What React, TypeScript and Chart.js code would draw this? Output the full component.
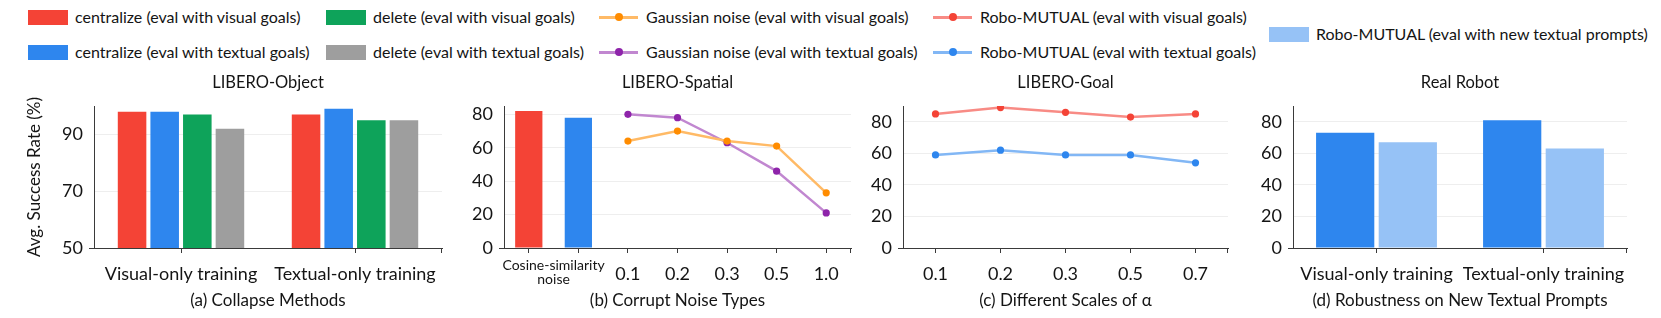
import React, { useEffect, useRef } from 'react';
import { Chart, registerables } from 'chart.js';

Chart.register(...registerables);

// ---------- styling constants ----------
const FONT = 'Lato, "Open Sans", sans-serif';
const TEXT = '#141414';
const AXIS = '#3a3a3a';
const GRID = '#eeeeee';

const RED = '#F44336';
const BLUE = '#2E86EE';
const GREEN = '#0EA35A';
const GRAY = '#9E9E9E';
const LIGHT_BLUE = '#96C2F6';
const ORANGE = '#FF8C00';
const ORANGE_LINE = '#FFBA66';
const PURPLE = '#8E24AA';
const PURPLE_LINE = '#C187D0';
const RED_LINE = '#F88B85';
const BLUE_LINE = '#82B7F5';

// ---------- data ----------
// (a) LIBERO-Object
const objectCategories = ['Visual-only training', 'Textual-only training'];
const objectCentralizeVisual = [98, 97];
const objectCentralizeTextual = [98, 99];
const objectDeleteVisual = [97, 95];
const objectDeleteTextual = [92, 95];
const objectYTicks = [50, 70, 90];

// (b) LIBERO-Spatial
const spatialCosineLabel = ['Cosine-similarity', 'noise'];
const spatialNoiseScales = ['0.1', '0.2', '0.3', '0.5', '1.0'];
const spatialCosineValues = [82, 78]; // centralize visual, centralize textual
const spatialGaussianVisual = [64, 70, 64, 61, 33];
const spatialGaussianTextual = [80, 78, 63, 46, 21];

// (c) LIBERO-Goal
const goalAlphas = ['0.1', '0.2', '0.3', '0.5', '0.7'];
const goalMutualVisual = [85, 89, 86, 83, 85];
const goalMutualTextual = [59, 62, 59, 59, 54];

// (d) Real Robot
const robotCategories = ['Visual-only training', 'Textual-only training'];
const robotMutualTextual = [73, 81];
const robotMutualNewPrompts = [67, 63];

const percentTicks = [0, 20, 40, 60, 80];

// ---------- legend ----------
const legendSeries = [
  { label: 'centralize (eval with visual goals)', kind: 'box', color: RED, point: RED },
  { label: 'centralize (eval with textual goals)', kind: 'box', color: BLUE, point: BLUE },
  { label: 'delete (eval with visual goals)', kind: 'box', color: GREEN, point: GREEN },
  { label: 'delete (eval with textual goals)', kind: 'box', color: GRAY, point: GRAY },
  { label: 'Gaussian noise (eval with visual goals)', kind: 'line', color: ORANGE_LINE, point: ORANGE },
  { label: 'Gaussian noise (eval with textual goals)', kind: 'line', color: PURPLE_LINE, point: PURPLE },
  { label: 'Robo-MUTUAL (eval with visual goals)', kind: 'line', color: RED_LINE, point: RED },
  { label: 'Robo-MUTUAL (eval with textual goals)', kind: 'line', color: BLUE_LINE, point: BLUE },
  { label: 'Robo-MUTUAL (eval with new textual prompts)', kind: 'box', color: LIGHT_BLUE, point: LIGHT_BLUE },
];
const legendSlots = [
  [28, 17], [28, 52], [326, 17], [326, 52], [599, 17], [599, 52], [933, 17], [933, 52], [1269, 34],
];

// ---------- layout ----------
const CANVAS_TOP = 66;
const CANVAS_H = 252;
const AREA_TOP = 106;
const AREA_BOTTOM = 248;
const TITLE_SIZE = 16.5;

type PanelSpec = {
  title: string;
  subtitle: string;
  yMin: number;
  yMax: number;
  yTicks: number[];
  yWidth: number;
  padRight: number;
  yTitle?: string;
};

function baseOptions(p: PanelSpec): any {
  const tickFont = { family: FONT, size: 18 };
  const titleLH = TITLE_SIZE * 1.2;
  const titleTop = 17 - titleLH / 2;
  return {
    animation: false,
    responsive: false,
    maintainAspectRatio: false,
    layout: { padding: { left: 0, right: p.padRight, top: 0, bottom: 0 } },
    plugins: {
      legend: { display: false },
      tooltip: { enabled: false },
      title: {
        display: true,
        text: p.title,
        fullSize: false,
        color: TEXT,
        font: { family: FONT, size: TITLE_SIZE, weight: 'normal' },
        padding: { top: titleTop, bottom: AREA_TOP - CANVAS_TOP - titleTop - titleLH },
      },
    },
    scales: {
      x: {
        offset: true,
        grid: {
          display: true,
          drawOnChartArea: false,
          drawTicks: true,
          tickLength: 5,
          color: AXIS,
          offset: false,
        },
        border: { display: true, color: AXIS, width: 1 },
        ticks: { color: TEXT, font: tickFont, padding: 10, maxRotation: 0, autoSkip: false },
        title: {
          display: true,
          text: p.subtitle,
          color: TEXT,
          font: { family: FONT, size: 17 },
          padding: { top: 0, bottom: 6.8 },
        },
        afterFit: (s: any) => {
          s.height = CANVAS_TOP + CANVAS_H - AREA_BOTTOM;
        },
      },
      y: {
        min: p.yMin,
        max: p.yMax,
        grid: { color: GRID, drawTicks: false, lineWidth: 1 },
        border: { display: true, color: AXIS, width: 1 },
        ticks: { color: TEXT, font: tickFont, padding: 11 },
        afterBuildTicks: (s: any) => {
          s.ticks = p.yTicks.map((v) => ({ value: v }));
        },
        afterFit: (s: any) => {
          s.width = p.yWidth;
        },
        title: p.yTitle
          ? {
              display: true,
              text: p.yTitle,
              color: TEXT,
              font: { family: FONT, size: 17 },
              padding: { top: 24.8, bottom: 0 },
            }
          : { display: false },
      },
    },
  };
}

// small spine details: x axis runs a little past the y axis, and ends with a tick
const axisEndsPlugin = {
  id: 'axisEnds',
  afterDraw(chart: any) {
    const { left, right, bottom } = chart.chartArea;
    const ctx = chart.ctx;
    ctx.save();
    ctx.strokeStyle = AXIS;
    ctx.lineWidth = 1;
    ctx.beginPath();
    ctx.moveTo(left - 5, bottom + 0.5);
    ctx.lineTo(left, bottom + 0.5);
    ctx.moveTo(right - 0.5, bottom);
    ctx.lineTo(right - 0.5, bottom + 5);
    ctx.stroke();
    ctx.restore();
  },
};

const cosineLabelPlugin = {
  id: 'cosineLabel',
  afterDraw(chart: any) {
    const x = chart.scales.x;
    const ctx = chart.ctx;
    const cx = (x.getPixelForValue(0) + x.getPixelForValue(1)) / 2;
    ctx.save();
    ctx.font = `14px ${FONT}`;
    ctx.fillStyle = TEXT;
    ctx.textAlign = 'center';
    ctx.textBaseline = 'middle';
    spatialCosineLabel.forEach((line, i) => {
      ctx.fillText(line, cx, chart.chartArea.bottom + 17 + i * 14);
    });
    ctx.restore();
  },
};

function lineDataset(label: string, data: (number | null)[], line: string, point: string, order: number) {
  return {
    type: 'line',
    label,
    data,
    borderColor: line,
    backgroundColor: point,
    pointBackgroundColor: point,
    pointBorderColor: point,
    pointRadius: 3.6,
    pointBorderWidth: 0,
    borderWidth: 2.5,
    tension: 0,
    order,
  };
}

function buildObject(): any {
  return {
    type: 'bar',
    data: {
      labels: objectCategories,
      datasets: [
        { label: legendSeries[0].label, data: objectCentralizeVisual, backgroundColor: RED },
        { label: legendSeries[1].label, data: objectCentralizeTextual, backgroundColor: BLUE },
        { label: legendSeries[2].label, data: objectDeleteVisual, backgroundColor: GREEN },
        { label: legendSeries[3].label, data: objectDeleteTextual, backgroundColor: GRAY },
      ].map((d) => ({ ...d, barPercentage: 0.875, categoryPercentage: 0.75 })),
    },
    options: baseOptions({
      title: 'LIBERO-Object',
      subtitle: '(a) Collapse Methods',
      yMin: 50,
      yMax: 100,
      yTicks: objectYTicks,
      yWidth: 94,
      padRight: 8,
      yTitle: 'Avg. Success Rate (%)',
    }),
    plugins: [axisEndsPlugin],
  };
}

function buildSpatial(): any {
  const pad = spatialCosineValues.map(() => null);
  const labels = [...spatialCosineValues.map(() => ''), ...spatialNoiseScales];
  return {
    type: 'bar',
    data: {
      labels,
      datasets: [
        {
          type: 'bar',
          label: 'Cosine-similarity noise',
          data: [...spatialCosineValues, ...spatialNoiseScales.map(() => null)],
          backgroundColor: [RED, BLUE],
          barPercentage: 0.55,
          categoryPercentage: 1,
          order: 2,
        },
        lineDataset(legendSeries[5].label, [...pad, ...spatialGaussianTextual], PURPLE_LINE, PURPLE, 1),
        lineDataset(legendSeries[4].label, [...pad, ...spatialGaussianVisual], ORANGE_LINE, ORANGE, 0),
      ],
    },
    options: baseOptions({
      title: 'LIBERO-Spatial',
      subtitle: '(b) Corrupt Noise Types',
      yMin: 0,
      yMax: 85,
      yTicks: percentTicks,
      yWidth: 49,
      padRight: 4,
    }),
    plugins: [cosineLabelPlugin, axisEndsPlugin],
  };
}

function buildGoal(): any {
  return {
    type: 'line',
    data: {
      labels: goalAlphas,
      datasets: [
        lineDataset(legendSeries[6].label, goalMutualVisual, RED_LINE, RED, 0),
        lineDataset(legendSeries[7].label, goalMutualTextual, BLUE_LINE, BLUE, 1),
      ],
    },
    options: baseOptions({
      title: 'LIBERO-Goal',
      subtitle: '(c) Different Scales of α',
      yMin: 0,
      yMax: 90,
      yTicks: percentTicks,
      yWidth: 45,
      padRight: 5,
    }),
    plugins: [axisEndsPlugin],
  };
}

function buildRobot(): any {
  return {
    type: 'bar',
    data: {
      labels: robotCategories,
      datasets: [
        { label: legendSeries[7].label, data: robotMutualTextual, backgroundColor: BLUE },
        { label: legendSeries[8].label, data: robotMutualNewPrompts, backgroundColor: LIGHT_BLUE },
      ].map((d) => ({ ...d, barPercentage: 0.93, categoryPercentage: 0.75 })),
    },
    options: baseOptions({
      title: 'Real Robot',
      subtitle: '(d) Robustness on New Textual Prompts',
      yMin: 0,
      yMax: 90,
      yTicks: percentTicks,
      yWidth: 53,
      padRight: 34,
    }),
    plugins: [axisEndsPlugin],
  };
}

function Panel({ left, width, build }: { left: number; width: number; build: () => any }) {
  const ref = useRef<HTMLCanvasElement>(null);
  useEffect(() => {
    const chart = new Chart(ref.current as HTMLCanvasElement, build());
    return () => chart.destroy();
  }, []);
  return (
    <canvas
      ref={ref}
      width={width}
      height={CANVAS_H}
      style={{ position: 'absolute', left, top: CANVAS_TOP, width, height: CANVAS_H, display: 'block' }}
    />
  );
}

function Legend() {
  return (
    <>
      {legendSeries.map((s, i) => {
        const [x, cy] = legendSlots[i];
        return (
          <React.Fragment key={s.label}>
            {s.kind === 'box' ? (
              <div
                style={{
                  position: 'absolute',
                  left: x,
                  top: cy - 7.5,
                  width: 40,
                  height: 15,
                  background: s.color,
                }}
              />
            ) : (
              <>
                <div
                  style={{
                    position: 'absolute',
                    left: x,
                    top: cy - 1.5,
                    width: 39,
                    height: 3,
                    background: s.color,
                  }}
                />
                <div
                  style={{
                    position: 'absolute',
                    left: x + 20 - 4,
                    top: cy - 4,
                    width: 8,
                    height: 8,
                    borderRadius: 4,
                    background: s.point,
                  }}
                />
              </>
            )}
            <div
              style={{
                position: 'absolute',
                left: x + 47,
                top: cy - 10,
                height: 20,
                lineHeight: '20px',
                fontSize: 16,
                fontFamily: FONT,
                color: TEXT,
                whiteSpace: 'nowrap',
              }}
            >
              {s.label}
            </div>
          </React.Fragment>
        );
      })}
    </>
  );
}

export default function App() {
  return (
    <div
      style={{
        position: 'fixed',
        left: 0,
        top: 0,
        width: 1661,
        height: 318,
        background: '#ffffff',
        overflow: 'hidden',
      }}
    >
      <Legend />
      <Panel left={0} width={450} build={buildObject} />
      <Panel left={455} width={400} build={buildSpatial} />
      <Panel left={858} width={375} build={buildGoal} />
      <Panel left={1240} width={421} build={buildRobot} />
    </div>
  );
}
